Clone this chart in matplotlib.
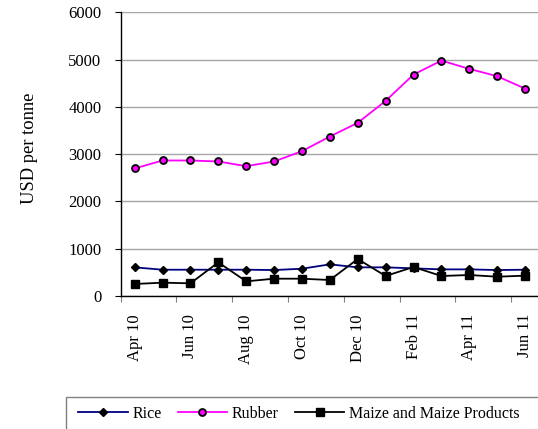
import matplotlib
matplotlib.use("Agg")
import matplotlib.pyplot as plt
from matplotlib.patches import Rectangle

months = ["Apr 10", "May 10", "Jun 10", "Jul 10", "Aug 10", "Sep 10", "Oct 10", "Nov 10",
          "Dec 10", "Jan 11", "Feb 11", "Mar 11", "Apr 11", "May 11", "Jun 11"]
rice = [606, 556, 556, 556, 556, 549, 577, 669, 606, 606, 585, 563, 563, 549, 556]
rubber = [2697, 2866, 2866, 2845, 2746, 2845, 3063, 3373, 3662, 4127, 4683, 4979, 4803, 4648, 4387]
maize = [254, 282, 268, 711, 310, 366, 366, 338, 782, 423, 613, 423, 444, 408, 430]
yticks = [0, 1000, 2000, 3000, 4000, 5000, 6000]

plt.rcParams['font.family'] = ['Liberation Serif', 'DejaVu Serif']

W, H = 538, 429
fig = plt.figure(figsize=(W/100, H/100), dpi=100)
ax = fig.add_axes([120.7/W, 1-296/H, (539-120.7)/W, (296-12.3)/H])

x = list(range(len(months)))
ax.plot(x, rice, color='#000080', lw=1.3, marker='D', ms=3.6, mfc='black', mec='black', label='Rice', zorder=3)
ax.plot(x, rubber, color='#FF00FF', lw=1.3, marker='o', ms=5, mfc='#FF00FF', mec='black', mew=1.3, label='Rubber', zorder=3)
ax.plot(x, maize, color='black', lw=1.3, marker='s', ms=5.2, mfc='black', mec='black', label='Maize and Maize Products', zorder=4)

ax.set_xlim(-0.5, len(months)-0.5)
ax.set_ylim(0, 6000)
ax.set_yticks(yticks)
ax.set_yticklabels([str(v) for v in yticks], fontsize=12)
ax.yaxis.grid(True, color='#a6a6a6', lw=1)
ax.set_axisbelow(True)

ax.set_xticks([i - 0.5 for i in range(0, len(months), 2)])
ax.set_xticklabels([])
ax.set_xticks(list(range(0, len(months), 2)), minor=True)
ax.set_xticklabels([months[i] for i in range(0, len(months), 2)], minor=True, rotation=90, fontsize=12)
ax.tick_params(axis='x', which='major', length=4, direction='out', color='#808080')
ax.tick_params(axis='x', which='minor', length=0, pad=13)
ax.tick_params(axis='y', length=4, direction='out', pad=10)

for s in ['top', 'right']:
    ax.spines[s].set_visible(False)
for s in ['left', 'bottom']:
    ax.spines[s].set_color('black')
    ax.spines[s].set_linewidth(1)

ax.set_ylabel('USD per tonne', fontsize=13.3)
ax.yaxis.set_label_coords((38 - 120.7) / (539 - 120.7), (296 - 148) / (296 - 12.3))

leg = fig.legend(loc='center left', bbox_to_anchor=(78/W, 1-414/H), ncol=3,
                 fontsize=11.5, frameon=False,
                 handlelength=3.1, columnspacing=1.0, handletextpad=0.3,
                 borderaxespad=0.0, borderpad=0.0)

fig.patches.append(Rectangle((66/W, -0.05), 0.95, (1-397/H) + 0.05, transform=fig.transFigure,
                             fill=False, edgecolor='#808080', lw=1, clip_on=False))

fig.savefig('out.png', dpi=100)
